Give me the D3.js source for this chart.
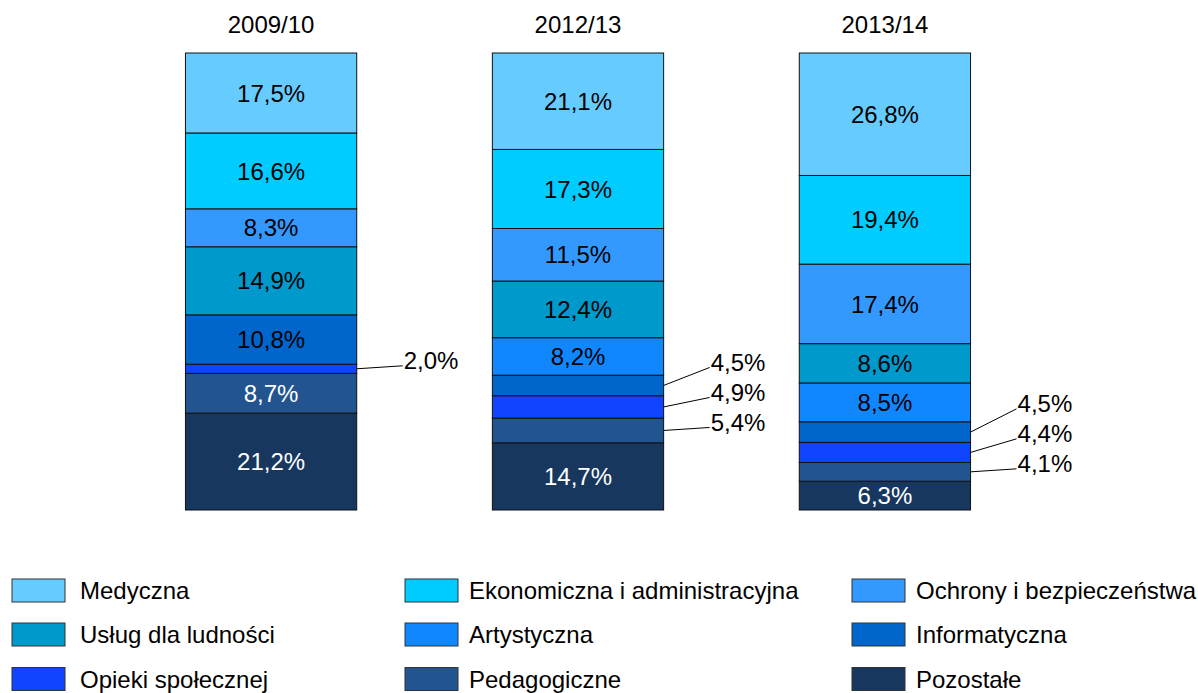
<!DOCTYPE html>
<html>
<head>
<meta charset="utf-8">
<script src="https://cdn.jsdelivr.net/npm/d3@7"></script>
<style>
  body { margin: 0; background: #fff; }
  svg text { font-family: "Liberation Sans", Arial, sans-serif; }
</style>
</head>
<body>
<svg id="chart" width="1198" height="693"></svg>
<script>
// ---- data ----
const years = ["2009/10", "2012/13", "2013/14"];
// series listed from bottom of the stack to top
const seriesNames = ["Pozostałe", "Pedagogiczne", "Opieki społecznej", "Informatyczna", "Artystyczna",
  "Usług dla ludności", "Ochrony i bezpieczeństwa", "Ekonomiczna i administracyjna", "Medyczna"];
const pozostale      = [21.2, 14.7, 6.3];
const pedagogiczne   = [8.7, 5.4, 4.1];
const opieki         = [2.0, 4.9, 4.4];
const informatyczna  = [10.8, 4.5, 4.5];
const artystyczna    = [0, 8.2, 8.5];
const uslug          = [14.9, 12.4, 8.6];
const ochrony        = [8.3, 11.5, 17.4];
const ekonomiczna    = [16.6, 17.3, 19.4];
const medyczna       = [17.5, 21.1, 26.8];
const seriesValues = [pozostale, pedagogiczne, opieki, informatyczna, artystyczna, uslug, ochrony, ekonomiczna, medyczna];
// legend order (row-major, 3 columns)
const legendOrder = ["Medyczna", "Ekonomiczna i administracyjna", "Ochrony i bezpieczeństwa",
  "Usług dla ludności", "Artystyczna", "Informatyczna",
  "Opieki społecznej", "Pedagogiczne", "Pozostałe"];

// ---- styles ----
const colors = {
  "Medyczna": "#66CCFF",
  "Ekonomiczna i administracyjna": "#00CCFF",
  "Ochrony i bezpieczeństwa": "#3399FF",
  "Usług dla ludności": "#0099CC",
  "Artystyczna": "#1187FF",
  "Informatyczna": "#0066CC",
  "Opieki społecznej": "#1144FF",
  "Pedagogiczne": "#225490",
  "Pozostałe": "#17375E"
};
const whiteLabel = new Set(["Pedagogiczne", "Pozostałe"]);
const FONT = 24;

const svg = d3.select("#chart");

// table
const table = years.map((y, i) => {
  const row = { year: y };
  seriesNames.forEach((s, k) => row[s] = seriesValues[k][i]);
  return row;
});
const stacked = d3.stack().keys(seriesNames)(table);

const x = d3.scaleBand().domain(years).range([32, 1124]).paddingInner(0.442).paddingOuter(0.5);
const y = d3.scaleLinear().domain([0, 100]).range([510, 53]);

// titles
svg.selectAll("text.title").data(years).join("text")
  .attr("class", "title")
  .attr("x", d => x(d) + x.bandwidth() / 2)
  .attr("y", 33)
  .attr("text-anchor", "middle")
  .attr("font-size", FONT)
  .attr("fill", "#000")
  .text(d => d);

// segments
const layers = svg.selectAll("g.layer").data(stacked).join("g").attr("class", "layer");
layers.selectAll("rect").data(L => L.filter(d => d[1] - d[0] > 0).map(d => ({ key: L.key, d })))
  .join("rect")
  .attr("x", o => x(o.d.data.year))
  .attr("width", x.bandwidth())
  .attr("y", o => y(o.d[1]))
  .attr("height", o => y(o.d[0]) - y(o.d[1]))
  .attr("fill", o => colors[o.key])
  .attr("stroke", "#111")
  .attr("stroke-width", 1);

// labels
const allSegs = [];
stacked.forEach(L => L.forEach(d => {
  const v = d[1] - d[0];
  if (v > 0) allSegs.push({ key: L.key, year: d.data.year, v, lo: d[0], hi: d[1] });
}));
const fmt = v => d3.format(".1f")(v).replace(".", ",") + "%";
const MIN_H = 26;
const inside = allSegs.filter(s => y(s.lo) - y(s.hi) >= MIN_H);
const outside = allSegs.filter(s => y(s.lo) - y(s.hi) < MIN_H);

svg.selectAll("text.inlabel").data(inside).join("text")
  .attr("class", "inlabel")
  .attr("x", s => x(s.year) + x.bandwidth() / 2)
  .attr("y", s => (y(s.lo) + y(s.hi)) / 2)
  .attr("dy", "0.36em")
  .attr("text-anchor", "middle")
  .attr("font-size", FONT)
  .attr("fill", s => whiteLabel.has(s.key) ? "#fff" : "#000")
  .text(s => fmt(s.v));

// callout layout per year (stack upward from the lowest small segment)
years.forEach(yr => {
  const segs = outside.filter(s => s.year === yr).sort((a, b) => a.lo - b.lo);
  let prev = Infinity;
  segs.forEach(s => {
    const mid = (y(s.lo) + y(s.hi)) / 2;
    s.mid = mid;
    s.ly = Math.min(mid - 8, prev - 30);
    prev = s.ly;
  });
});
const xr = s => x(s.year) + x.bandwidth();
svg.selectAll("line.callout").data(outside).join("line")
  .attr("class", "callout")
  .attr("x1", s => xr(s))
  .attr("y1", s => s.mid)
  .attr("x2", s => xr(s) + 46)
  .attr("y2", s => s.ly + 5)
  .attr("stroke", "#000")
  .attr("stroke-width", 1);
svg.selectAll("text.outlabel").data(outside).join("text")
  .attr("class", "outlabel")
  .attr("x", s => xr(s) + 47)
  .attr("y", s => s.ly)
  .attr("dy", "0.36em")
  .attr("font-size", FONT)
  .attr("fill", "#000")
  .text(s => fmt(s.v));

// legend
const legCols = [12, 405, 852];
const legTextX = [80, 469, 916];
const legRows = [590.5, 634.5, 679];
const leg = svg.selectAll("g.leg").data(legendOrder).join("g")
  .attr("class", "leg")
  .attr("transform", (d, i) => `translate(0,${legRows[Math.floor(i / 3)]})`);
leg.append("rect")
  .attr("x", (d, i) => legCols[i % 3]).attr("y", -11.5).attr("width", 53).attr("height", 23)
  .attr("fill", d => colors[d]).attr("stroke", "#333").attr("stroke-width", 1);
leg.append("text")
  .attr("x", (d, i) => legTextX[i % 3]).attr("y", 0).attr("dy", "0.36em")
  .attr("font-size", FONT).attr("fill", "#000")
  .text(d => d);
</script>
</body>
</html>
